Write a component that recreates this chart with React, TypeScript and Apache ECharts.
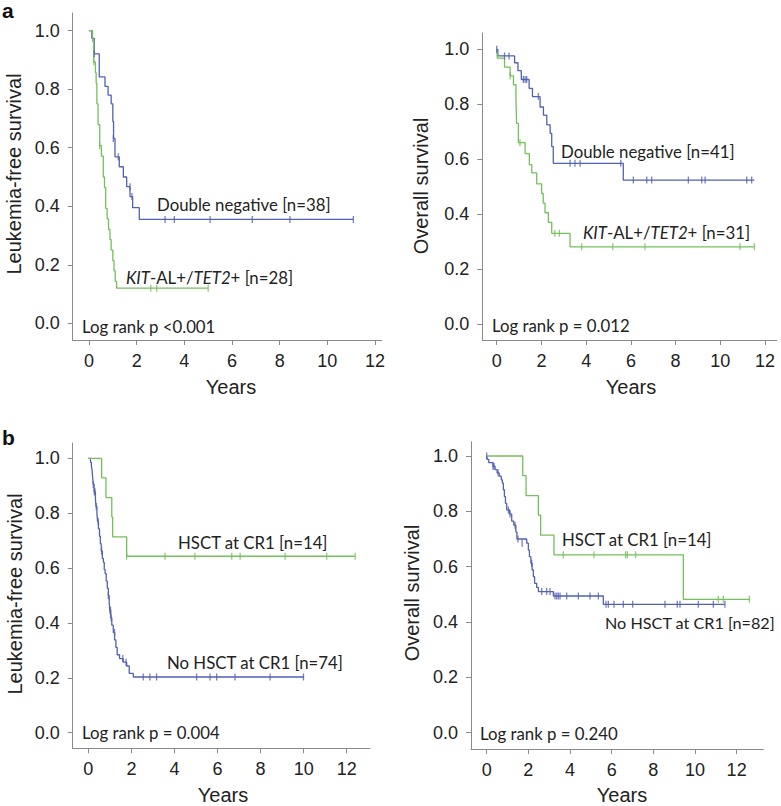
import React, { useEffect, useRef } from "react";
import * as echarts from "echarts";

// ---------- tick values ----------
const X_TICKS = [0, 2, 4, 6, 8, 10, 12];
const Y_TICKS = [0, 0.2, 0.4, 0.6, 0.8, 1.0];

// ---------- panel a, left: Leukemia-free survival ----------
const aLfsDoubleNeg = [
  [0, 1], [0.12, 0.974], [0.22, 0.921], [0.43, 0.842], [0.67, 0.81], [0.8, 0.78],
  [0.93, 0.75], [1.0, 0.69], [1.03, 0.632], [1.09, 0.569], [1.27, 0.535], [1.44, 0.5],
  [1.58, 0.467], [1.72, 0.433], [1.83, 0.395], [2.11, 0.355], [11.1, 0.355],
];
const aLfsDoubleNegCensor = [
  [0.22, 0.921], [1.02, 0.632], [1.23, 0.569], [1.72, 0.467], [1.8, 0.433],
  [3.19, 0.355], [3.58, 0.355], [5.08, 0.355], [6.85, 0.355], [8.43, 0.355], [11.09, 0.355],
];
const aLfsKit = [
  [0, 1], [0.15, 0.964], [0.2, 0.893], [0.27, 0.857], [0.3, 0.821], [0.33, 0.75],
  [0.38, 0.679], [0.45, 0.607], [0.52, 0.571], [0.6, 0.5], [0.65, 0.464], [0.7, 0.393],
  [0.76, 0.357], [0.82, 0.321], [0.88, 0.286], [0.93, 0.25], [1.0, 0.214], [1.05, 0.179],
  [1.1, 0.143], [1.16, 0.12], [5.0, 0.12],
];
const aLfsKitCensor = [[0.2, 0.893], [0.45, 0.607], [2.59, 0.12], [2.84, 0.12], [5.0, 0.12]];

// ---------- panel a, right: Overall survival ----------
const aOsDoubleNeg = [
  [0, 1], [0.05, 0.976], [0.8, 0.951], [0.95, 0.922], [1.1, 0.89], [1.45, 0.858],
  [1.6, 0.828], [1.94, 0.79], [2.09, 0.76], [2.24, 0.725], [2.39, 0.694], [2.46, 0.646],
  [2.53, 0.585], [5.66, 0.524], [11.52, 0.524],
];
const aOsDoubleNegCensor = [
  [0, 1], [0.35, 0.976], [0.55, 0.976], [1.19, 0.89], [1.27, 0.89], [1.34, 0.89],
  [1.86, 0.828], [3.28, 0.585], [3.5, 0.585], [3.73, 0.585], [5.55, 0.585], [6.11, 0.524],
  [6.71, 0.524], [6.93, 0.524], [8.57, 0.524], [9.17, 0.524], [9.32, 0.524], [11.18, 0.524],
  [11.4, 0.524],
];
const aOsKit = [
  [0, 1], [0.03, 0.968], [0.35, 0.935], [0.6, 0.903], [0.75, 0.871], [0.86, 0.822],
  [0.89, 0.73], [0.97, 0.66], [1.27, 0.62], [1.46, 0.58], [1.57, 0.55], [1.79, 0.51],
  [2.01, 0.475], [2.08, 0.44], [2.16, 0.405], [2.31, 0.37], [2.46, 0.33], [3.28, 0.281],
  [11.52, 0.281],
];
const aOsKitCensor = [
  [0.6, 0.903], [1.04, 0.66], [2.6, 0.33], [2.8, 0.33], [3.8, 0.281], [5.19, 0.281],
  [6.63, 0.281], [10.88, 0.281], [11.52, 0.281],
];

// ---------- panel b, left: Leukemia-free survival ----------
const bLfsHsct = [
  [0, 1], [0.62, 0.929], [0.82, 0.857], [1.09, 0.786], [1.13, 0.714], [1.78, 0.643], [12.39, 0.643],
];
const bLfsHsctCensor = [
  [1.78, 0.643], [3.56, 0.643], [4.95, 0.643], [6.66, 0.643], [7.05, 0.643], [9.14, 0.643],
  [11.07, 0.643], [12.39, 0.643],
];
const bLfsNoHsct = [
  [0, 1], [0.1, 0.986], [0.14, 0.973], [0.17, 0.959], [0.2, 0.932], [0.23, 0.905],
  [0.27, 0.878], [0.33, 0.851], [0.36, 0.824], [0.4, 0.797], [0.43, 0.77], [0.47, 0.743],
  [0.52, 0.716], [0.56, 0.689], [0.6, 0.662], [0.65, 0.635], [0.7, 0.621], [0.74, 0.594],
  [0.78, 0.58], [0.83, 0.553], [0.88, 0.526], [0.93, 0.5], [0.97, 0.473], [1.0, 0.446],
  [1.04, 0.419], [1.09, 0.392], [1.16, 0.365], [1.22, 0.338], [1.28, 0.311], [1.34, 0.284],
  [1.45, 0.27], [1.62, 0.257], [1.78, 0.243], [1.9, 0.216], [2.09, 0.203], [10.02, 0.203],
];
const bLfsNoHsctCensor = [
  [0.23, 0.905], [0.28, 0.878], [0.31, 0.878], [0.37, 0.824], [0.46, 0.77], [0.62, 0.662],
  [0.93, 0.5], [1.0, 0.446], [1.03, 0.446], [1.06, 0.419], [1.22, 0.365], [1.6, 0.27],
  [1.75, 0.257], [2.55, 0.203], [2.86, 0.203], [3.17, 0.203], [5.03, 0.203], [5.65, 0.203],
  [5.96, 0.203], [6.81, 0.203], [8.44, 0.203], [9.99, 0.203],
];

// ---------- panel b, right: Overall survival ----------
const bOsHsct = [
  [0, 1], [1.73, 0.929], [1.89, 0.857], [2.48, 0.786], [2.59, 0.714], [3.23, 0.643],
  [9.44, 0.482], [12.61, 0.482],
];
const bOsHsctCensor = [
  [3.68, 0.643], [5.15, 0.643], [6.67, 0.643], [6.75, 0.643], [7.15, 0.643],
  [11.12, 0.482], [11.36, 0.482], [12.61, 0.482],
];
const bOsNoHsct = [
  [0, 1], [0.03, 0.988], [0.1, 0.976], [0.3, 0.963], [0.4, 0.951], [0.5, 0.939],
  [0.6, 0.927], [0.7, 0.914], [0.75, 0.902], [0.8, 0.878], [0.85, 0.853], [0.9, 0.829],
  [0.96, 0.805], [1.1, 0.79], [1.2, 0.765], [1.3, 0.75], [1.4, 0.725], [1.45, 0.7],
  [1.92, 0.685], [2.0, 0.66], [2.05, 0.636], [2.12, 0.612], [2.18, 0.588], [2.24, 0.564],
  [2.3, 0.54], [2.4, 0.525], [2.48, 0.51], [3.2, 0.494], [5.6, 0.464], [11.44, 0.464],
];
const bOsNoHsctCensor = [
  [0, 1], [0.3, 0.963], [0.35, 0.963], [0.55, 0.939], [1.04, 0.805], [1.12, 0.79],
  [1.36, 0.75], [1.5, 0.7], [1.7, 0.685], [2.16, 0.612], [2.64, 0.51], [2.88, 0.51],
  [3.04, 0.51], [3.28, 0.494], [3.36, 0.494], [3.44, 0.494], [3.52, 0.494], [3.84, 0.494],
  [4.4, 0.494], [4.96, 0.494], [5.36, 0.494], [5.73, 0.464], [5.84, 0.464], [6.11, 0.464],
  [6.56, 0.464], [7.01, 0.464], [8.56, 0.464], [9.15, 0.464], [9.28, 0.464], [10.16, 0.464],
  [10.88, 0.464], [11.44, 0.464],
];

// ---------- styling ----------
const BLUE = "#5261b4";
const GREEN = "#74c05a";
const AXIS = "#8a8a8a";
const TEXT = "#222222";
const SANS = "'Liberation Sans', Arial, sans-serif";
const NOTE = "Lato, 'Open Sans', sans-serif";
const NOTE_SIZE = 16.8;

// layout of the four panels (pixel boxes and axis extents)
const PANELS = [
  { left: 72.7, top: 13, right: 381.7, bottom: 340, xmin: -0.684, xmax: 12.28, ymin: -0.0571, ymax: 1.0605 },
  { left: 482.3, top: 33, right: 776.7, bottom: 340, xmin: -0.644, xmax: 12.52, ymin: -0.0582, ymax: 1.0593 },
  { left: 72.7, top: 443, right: 370, bottom: 748.3, xmin: -0.725, xmax: 13.08, ymin: -0.0569, ymax: 1.0558 },
  { left: 471, top: 441.7, right: 763.3, bottom: 749, xmin: -0.754, xmax: 13.28, ymin: -0.0589, ymax: 1.0517 },
];

const SERIES = [
  { grid: 0, line: aLfsDoubleNeg, censor: aLfsDoubleNegCensor, color: BLUE, name: "Double negative [n=38]" },
  { grid: 0, line: aLfsKit, censor: aLfsKitCensor, color: GREEN, name: "KIT-AL+/TET2+ [n=28]" },
  { grid: 1, line: aOsDoubleNeg, censor: aOsDoubleNegCensor, color: BLUE, name: "Double negative [n=41]" },
  { grid: 1, line: aOsKit, censor: aOsKitCensor, color: GREEN, name: "KIT-AL+/TET2+ [n=31]" },
  { grid: 2, line: bLfsNoHsct, censor: bLfsNoHsctCensor, color: BLUE, name: "No HSCT at CR1 [n=74]" },
  { grid: 2, line: bLfsHsct, censor: bLfsHsctCensor, color: GREEN, name: "HSCT at CR1 [n=14]" },
  { grid: 3, line: bOsNoHsct, censor: bOsNoHsctCensor, color: BLUE, name: "No HSCT at CR1 [n=82]" },
  { grid: 3, line: bOsHsct, censor: bOsHsctCensor, color: GREEN, name: "HSCT at CR1 [n=14]" },
];

function note(x: number, y: number, text: string, rich = false, size = NOTE_SIZE) {
  return {
    type: "text",
    x,
    y,
    silent: true,
    style: {
      text,
      fill: TEXT,
      fontFamily: NOTE,
      fontSize: size,
      align: "left",
      verticalAlign: "middle",
      rich: rich
        ? {
            i: { fontStyle: "italic", fontFamily: NOTE, fontSize: size, fill: TEXT },
            n: { fontFamily: NOTE, fontSize: size, fill: TEXT },
          }
        : undefined,
    },
  };
}

function title(x: number, y: number, text: string, rotate = false) {
  return {
    type: "text",
    x,
    y,
    rotation: rotate ? Math.PI / 2 : 0,
    silent: true,
    style: {
      text,
      fill: TEXT,
      fontFamily: SANS,
      fontSize: 20,
      align: "center",
      verticalAlign: "middle",
    },
  };
}

function letter(x: number, y: number, text: string) {
  return {
    type: "text",
    x,
    y,
    silent: true,
    style: { text, fill: "#111", fontFamily: SANS, fontSize: 21, fontWeight: "bold", align: "left", verticalAlign: "top" },
  };
}

export default function App() {
  const ref = useRef<HTMLDivElement>(null);

  useEffect(() => {
    if (!ref.current) return;
    const chart = echarts.init(ref.current, undefined, { renderer: "svg" });

    const grid = PANELS.map((p) => ({
      left: p.left,
      top: p.top,
      width: p.right - p.left,
      height: p.bottom - p.top,
      containLabel: false,
    }));

    const xAxis = PANELS.map((p, i) => ({
      type: "value",
      gridIndex: i,
      min: p.xmin,
      max: p.xmax,
      axisLine: { show: true, onZero: false, lineStyle: { color: AXIS, width: 1 } },
      axisTick: { show: true, length: 5, customValues: X_TICKS, lineStyle: { color: AXIS, width: 1 } },
      axisLabel: {
        customValues: X_TICKS,
        margin: 12,
        color: TEXT,
        fontFamily: SANS,
        fontSize: 18,
        formatter: (v: number) => String(Math.round(v)),
      },
      splitLine: { show: false },
    }));

    const yAxis = PANELS.map((p, i) => ({
      type: "value",
      gridIndex: i,
      min: p.ymin,
      max: p.ymax,
      axisLine: { show: true, onZero: false, lineStyle: { color: AXIS, width: 1 } },
      axisTick: { show: true, length: 5, customValues: Y_TICKS, lineStyle: { color: AXIS, width: 1 } },
      axisLabel: {
        customValues: Y_TICKS,
        margin: 13,
        color: TEXT,
        fontFamily: SANS,
        fontSize: 18,
        formatter: (v: number) => v.toFixed(1),
      },
      splitLine: { show: false },
    }));

    const series: any[] = [];
    SERIES.forEach((s) => {
      series.push({
        type: "line",
        name: s.name,
        xAxisIndex: s.grid,
        yAxisIndex: s.grid,
        data: s.line,
        step: "end",
        showSymbol: false,
        symbol: "none",
        lineStyle: { color: s.color, width: 1.3 },
        silent: true,
        z: 3,
      });
      series.push({
        type: "scatter",
        name: s.name + " censored",
        xAxisIndex: s.grid,
        yAxisIndex: s.grid,
        data: s.censor,
        symbol: "rect",
        symbolSize: [1.3, 7],
        itemStyle: { color: s.color },
        silent: true,
        z: 4,
      });
    });

    const graphic = [
      letter(2, 0, "a"),
      letter(2, 427, "b"),
      // axis titles
      title(14, 174, "Leukemia-free survival", true),
      title(231, 387, "Years"),
      title(421, 186, "Overall survival", true),
      title(631, 387, "Years"),
      title(15, 594, "Leukemia-free survival", true),
      title(223, 795, "Years"),
      title(412, 593, "Overall survival", true),
      title(622, 795, "Years"),
      // annotations panel a
      note(157, 204, "Double negative [n=38]"),
      note(126, 277, "{i|KIT}{n|-AL+/}{i|TET2}{n|+ [n=28]}", true),
      note(82, 326, "Log rank p <0.001"),
      note(561, 151, "Double negative [n=41]"),
      note(583, 232, "{i|KIT}{n|-AL+/}{i|TET2}{n|+ [n=31]}", true),
      note(492, 325, "Log rank p = 0.012"),
      // annotations panel b
      note(178, 542, "HSCT at CR1 [n=14]"),
      note(167, 662, "No HSCT at CR1 [n=74]"),
      note(82, 732, "Log rank p = 0.004"),
      note(562, 539, "HSCT at CR1 [n=14]"),
      note(605, 622, "No HSCT at CR1 [n=82]", false, 16.2),
      note(480, 733, "Log rank p = 0.240"),
    ];

    chart.setOption({
      animation: false,
      backgroundColor: "#ffffff",
      grid,
      xAxis,
      yAxis,
      series,
      graphic,
    });

    return () => chart.dispose();
  }, []);

  return (
    <div
      ref={ref}
      style={{ position: "absolute", left: 0, top: 0, width: 781, height: 806 }}
    />
  );
}
